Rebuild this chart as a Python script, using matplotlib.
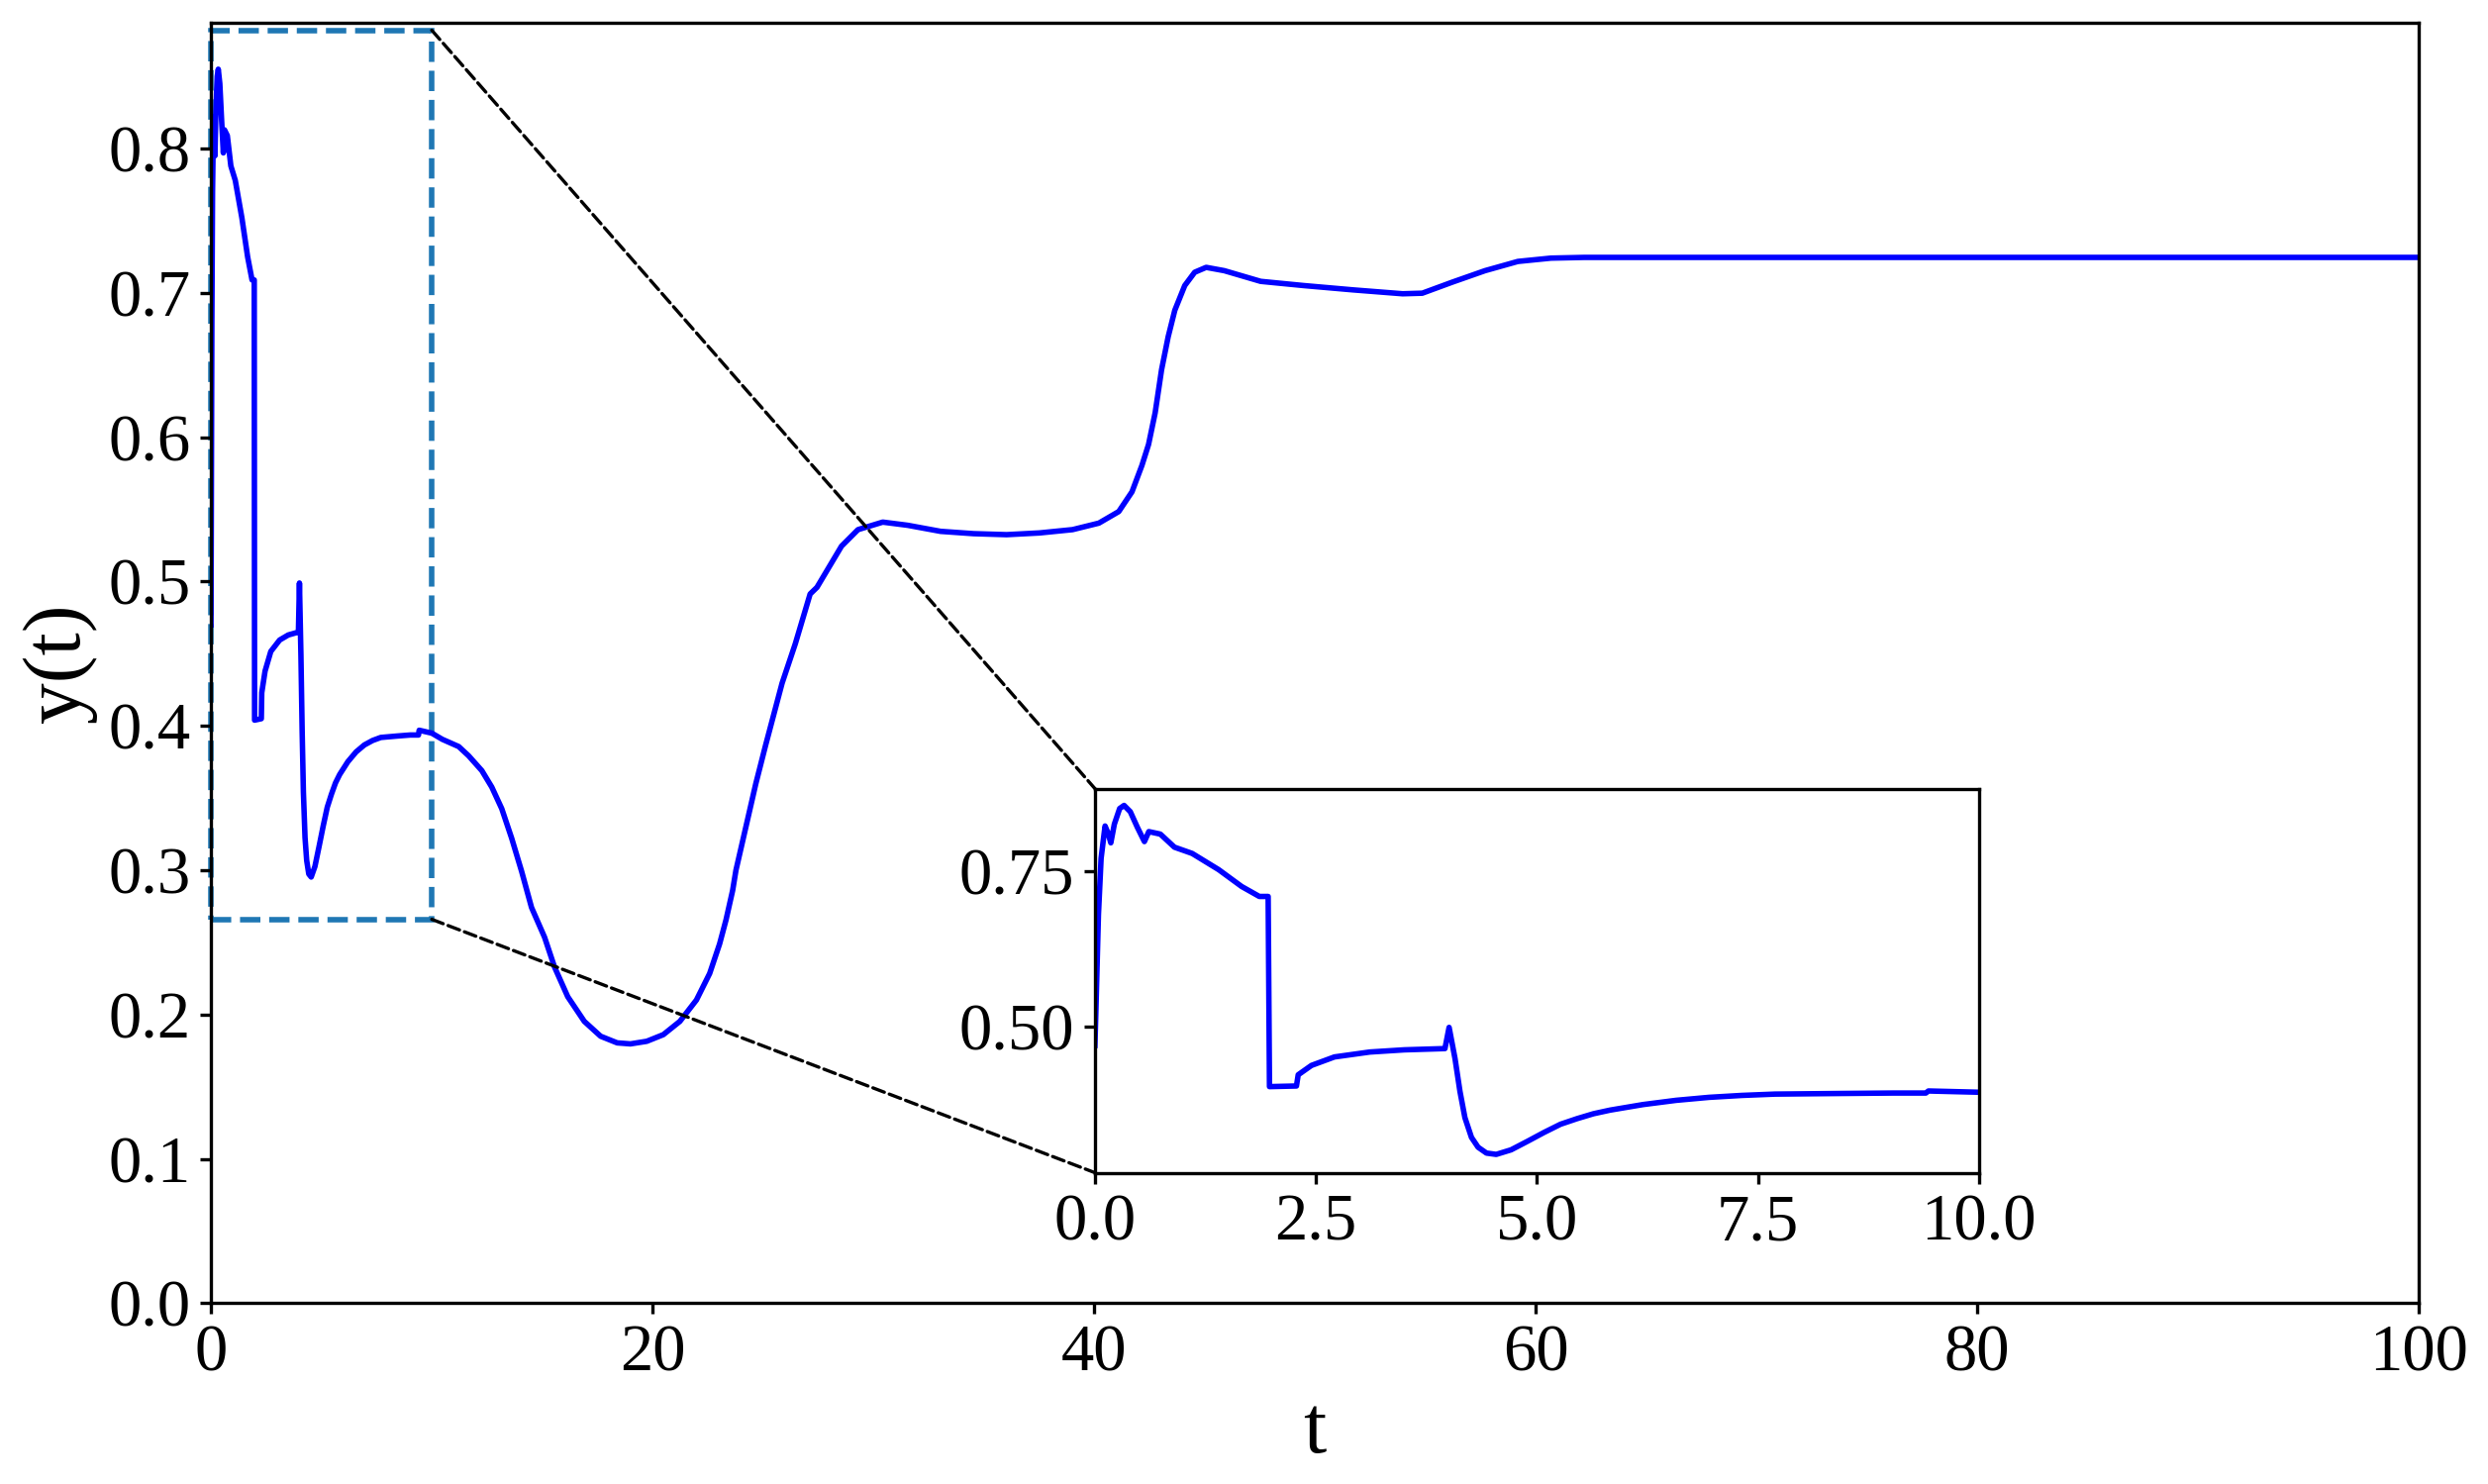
import numpy as np
import matplotlib
matplotlib.use("Agg")
import matplotlib.pyplot as plt
from matplotlib.patches import Rectangle, ConnectionPatch

plt.rcParams['font.family'] = ['Liberation Serif', 'DejaVu Serif']

# values
t = [0.0, 0.01, 0.04, 0.07, 0.10, 0.115, 0.15, 0.18, 0.22, 0.28, 0.33, 0.40, 0.48, 0.56,
     0.61, 0.74, 0.90, 1.10, 1.40, 1.66, 1.86, 1.96, 1.975, 2.28, 2.30, 2.45, 2.71, 3.11,
     3.50, 3.96, 4.007, 4.074, 4.13, 4.186, 4.26, 4.335, 4.43, 4.54, 4.708, 4.894, 5.081,
     5.268, 5.454, 5.64, 5.828, 6.2, 6.574, 6.947, 7.32, 7.693, 8.44, 9.03, 9.40, 9.43, 10.0,
     10.48, 11.22, 11.67, 12.27, 12.72, 13.17, 13.62, 14.07, 14.52, 15.11, 15.56, 16.16,
     16.91, 17.65, 18.4, 19.0, 19.74, 20.49, 21.24, 21.99, 22.59, 23.04, 23.33, 23.63, 23.78,
     24.23, 24.68, 25.13, 25.87, 26.47, 27.14, 27.45, 28.56, 29.31, 30.43, 31.56, 33.05,
     34.54, 36.04, 37.53, 39.03, 40.22, 41.12, 41.72, 42.17, 42.47, 42.77, 43.06, 43.36,
     43.66, 44.11, 44.56, 45.08, 45.9, 47.55, 49.49, 51.73, 53.98, 54.87, 56.22, 57.71,
     59.2, 60.7, 62.2, 70.0, 80.0, 90.0, 100.0]
y = [0.47, 0.52, 0.68, 0.77, 0.805, 0.822, 0.81, 0.795, 0.825, 0.85, 0.855, 0.845, 0.82, 0.797,
     0.813, 0.809, 0.788, 0.778, 0.752, 0.725, 0.709, 0.709, 0.404, 0.405, 0.423, 0.438, 0.4516, 0.4595,
     0.463, 0.465, 0.499, 0.449, 0.3963, 0.3542, 0.3226, 0.3068, 0.2974, 0.2953, 0.3026, 0.3163, 0.3305,
     0.3437, 0.3526, 0.3605, 0.3663, 0.3752, 0.382, 0.3868, 0.3899, 0.392, 0.393, 0.3937, 0.3937, 0.397, 0.395,
     0.3907, 0.3857, 0.3793, 0.369, 0.3576, 0.3427, 0.3222, 0.2993, 0.2742, 0.2536, 0.233, 0.2124,
     0.1953, 0.185, 0.1804, 0.1797, 0.1815, 0.1861, 0.1953, 0.2101, 0.2285, 0.249, 0.2656, 0.2860, 0.3000,
     0.330, 0.360, 0.387, 0.4296, 0.457, 0.4914, 0.496, 0.5245, 0.536, 0.5412, 0.539, 0.5348,
     0.5332, 0.5325, 0.5337, 0.536, 0.5405, 0.5485, 0.5622, 0.5805, 0.595, 0.617, 0.6468, 0.6697,
     0.688, 0.7051, 0.7143, 0.7177, 0.7154, 0.708, 0.7051, 0.7021, 0.6994, 0.6998, 0.7074, 0.7154,
     0.7218, 0.7241, 0.7246, 0.7246, 0.7246, 0.7246, 0.7246]

main_xticks = [0, 20, 40, 60, 80, 100]
main_yticks = [0.0, 0.1, 0.2, 0.3, 0.4, 0.5, 0.6, 0.7, 0.8]
inset_xticks = [0.0, 2.5, 5.0, 7.5, 10.0]
inset_yticks = [0.50, 0.75]

fig = plt.figure(figsize=(2513 / 200, 1499 / 200), dpi=200)
ax = fig.add_axes([0.0848, 0.1218, 0.8873, 0.8627])
ax.plot(t, y, color='blue', linewidth=2)
ax.set_xlim(0, 100)
ax.set_ylim(0, 0.887)
ax.set_xticks(main_xticks)
ax.set_yticks(main_yticks)
ax.set_xticklabels([str(v) for v in main_xticks])
ax.set_yticklabels(["%.1f" % v for v in main_yticks])
ax.tick_params(labelsize=24, width=1.2, length=4)
for s in ax.spines.values():
    s.set_linewidth(1.2)
ax.set_xlabel("t", fontsize=30)
ax.set_ylabel("y(t)", fontsize=30)

# inset zoom on the first 10 seconds
x0, x1, y0, y1 = 0, 10, 0.266, 0.882
axins = ax.inset_axes([0.4004, 0.102, 0.4004, 0.300])
axins.plot(t, y, color='blue', linewidth=2)
axins.set_xlim(x0, x1)
axins.set_ylim(y0, y1)
axins.set_xticks(inset_xticks)
axins.set_yticks(inset_yticks)
axins.set_xticklabels(["%.1f" % v for v in inset_xticks])
axins.set_yticklabels(["%.2f" % v for v in inset_yticks])
axins.tick_params(labelsize=24, width=1.2, length=4)
for s in axins.spines.values():
    s.set_linewidth(1.2)

rect = Rectangle((x0, y0), x1 - x0, y1 - y0, fill=False, edgecolor='#1f77b4',
                 linestyle='--', linewidth=2, clip_on=False)
ax.add_patch(rect)

for ya, yb in [(y1, 1), (y0, 0)]:
    con = ConnectionPatch(xyA=(x1, ya), coordsA=ax.transData,
                          xyB=(0, yb), coordsB=axins.transAxes,
                          color='black', linestyle='--', linewidth=1.2)
    fig.add_artist(con)

fig.savefig("out.png", dpi=200)
